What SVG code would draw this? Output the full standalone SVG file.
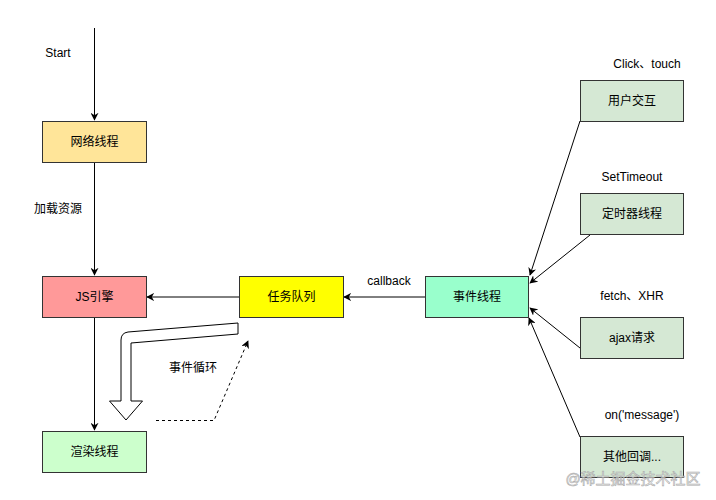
<svg xmlns="http://www.w3.org/2000/svg" width="716" height="500" viewBox="0 0 716 500">
<defs>
<style>
.box{stroke:#333;stroke-width:1}
.t{font-family:"Liberation Sans","Noto Sans CJK SC",sans-serif;font-size:12px;fill:#000;text-anchor:middle;dominant-baseline:central}
.lbl{font-family:"Liberation Sans","Noto Sans CJK SC",sans-serif;font-size:12px;fill:#000;text-anchor:middle;dominant-baseline:central}
.ln{stroke:#000;stroke-width:1;fill:none}
</style>
<marker id="arr" viewBox="0 0 10 10" refX="9" refY="5" markerWidth="8" markerHeight="8" markerUnits="userSpaceOnUse" orient="auto">
<path d="M0,0 L10,5 L0,10 L3,5 Z" fill="#000"/>
</marker>
</defs>
<rect width="716" height="500" fill="#fff"/>
<g id="connectors">
<line class="ln" x1="94.5" y1="28" x2="94.5" y2="120" marker-end="url(#arr)"/>
<line class="ln" x1="94.5" y1="162" x2="94.5" y2="275" marker-end="url(#arr)"/>
<line class="ln" x1="94.5" y1="317" x2="94.5" y2="430" marker-end="url(#arr)"/>
<line class="ln" x1="239" y1="297" x2="147" y2="297" marker-end="url(#arr)" stroke="#444"/>
<line class="ln" x1="425" y1="297" x2="344" y2="297" marker-end="url(#arr)" stroke="#444"/>
<line class="ln" x1="580" y1="121" x2="530" y2="275" marker-end="url(#arr)"/>
<line class="ln" x1="590" y1="235" x2="530" y2="283" marker-end="url(#arr)"/>
<line class="ln" x1="580" y1="348" x2="530" y2="308" marker-end="url(#arr)"/>
<line class="ln" x1="580" y1="437" x2="529" y2="318" marker-end="url(#arr)"/>
<path d="M238,323 L128,332 Q121,333 121,340 L121,401 L109.5,401 L126,420 L142.5,401 L131,401 L131,343 L238,334 Z" fill="#fff" stroke="#000" stroke-width="1"/>
<path d="M156,420.5 L214,420.5 L248,341" fill="none" stroke="#000" stroke-width="1" stroke-dasharray="3,3" marker-end="url(#arr)"/>
</g>
<g id="label-start"><text class="lbl" x="58" y="53">Start</text></g>
<g id="label-load"><text class="lbl" x="58" y="209">加载资源</text></g>
<g id="label-callback"><text class="lbl" x="389" y="281">callback</text></g>
<g id="label-loop"><text class="lbl" x="193" y="368">事件循环</text></g>
<g id="label-click"><text class="lbl" x="647" y="64">Click、touch</text></g>
<g id="label-settimeout"><text class="lbl" x="632" y="177">SetTimeout</text></g>
<g id="label-fetch"><text class="lbl" x="632" y="296">fetch、XHR</text></g>
<g id="label-msg"><text class="lbl" x="642" y="415">on('message')</text></g>
<g id="node-network"><rect class="box" x="42.5" y="121.5" width="104" height="41" fill="#ffe599"/><text class="t" x="94.5" y="142">网络线程</text></g>
<g id="node-js"><rect class="box" x="42.5" y="276.5" width="104" height="41" fill="#ff9999"/><text class="t" x="94.5" y="297">JS引擎</text></g>
<g id="node-queue"><rect class="box" x="239.5" y="276.5" width="104" height="41" fill="#ffff00"/><text class="t" x="291.5" y="297">任务队列</text></g>
<g id="node-event"><rect class="box" x="425.5" y="276.5" width="103" height="41" fill="#99ffcc"/><text class="t" x="477" y="297">事件线程</text></g>
<g id="node-render"><rect class="box" x="42.5" y="431.5" width="104" height="41" fill="#ccffcc"/><text class="t" x="94.5" y="452">渲染线程</text></g>
<g id="node-user"><rect class="box" x="580.5" y="80.5" width="103" height="41" fill="#d5e8d4"/><text class="t" x="632" y="101">用户交互</text></g>
<g id="node-timer"><rect class="box" x="580.5" y="193.5" width="103" height="41" fill="#d5e8d4"/><text class="t" x="632" y="214">定时器线程</text></g>
<g id="node-ajax"><rect class="box" x="580.5" y="317.5" width="103" height="41" fill="#d5e8d4"/><text class="t" x="632" y="338">ajax请求</text></g>
<g id="node-other"><rect class="box" x="580.5" y="436.5" width="103" height="41" fill="#d5e8d4"/><text class="t" x="632" y="457">其他回调...</text></g>
<g id="watermark"><text x="633" y="478" font-family="Liberation Sans,Noto Sans CJK SC,sans-serif" font-size="15" fill="#fff" stroke="#aaa" stroke-width="0.6" fill-opacity="0.5" text-anchor="middle" dominant-baseline="central">@稀土掘金技术社区</text></g>
</svg>
